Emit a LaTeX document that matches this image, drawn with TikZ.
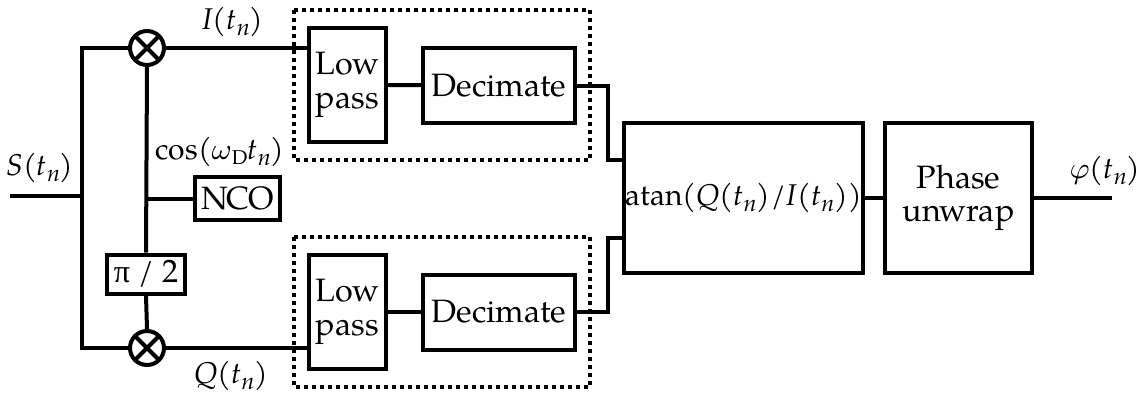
\documentclass[tikz,border=0pt]{standalone}
\usepackage{fontspec}
\setmainfont{TeX Gyre Pagella}
\newfontfamily\grkfont{Liberation Serif}
\usetikzlibrary{calc}
\newcommand{\vi}[1]{\textit{#1}}
\newcommand{\tn}{\vi{t}\kern0.1pt\raisebox{-1.7pt}{\fontsize{7}{8}\selectfont\vi{n}}}
\begin{document}
\begin{tikzpicture}[x=0.3pt,y=-0.3pt,
  line width=1.2pt,
  blk/.style={draw,line width=1.2pt,inner sep=0pt,align=center,font=\fontsize{9.7}{11}\selectfont},
  mix/.style={draw,circle,line width=1.2pt,minimum size=10.2pt,inner sep=0pt,
    path picture={\draw[line width=1.2pt] (path picture bounding box.north west)--(path picture bounding box.south east)
      (path picture bounding box.north east)--(path picture bounding box.south west);}},
  dotbox/.style={draw,line width=1.2pt,dash pattern=on 1.2pt off 1.2pt},
  lbl/.style={inner sep=0pt,font=\fontsize{9}{10}\selectfont}]
\useasboundingbox (0,0) rectangle (1141,394);
% mixers
\node[mix] (mixI) at (147,48) {};
\node[mix] (mixQ) at (147,348) {};
% boxes
\node[blk,minimum width=23.1pt,minimum height=34.2pt] (lpI) at (347.5,85) {Low\\[-1pt]pass};
\node[blk,minimum width=45.6pt,minimum height=22.5pt] (decI) at (499,85.5) {Decimate};
\node[blk,minimum width=23.1pt,minimum height=34.2pt] (lpQ) at (347.5,312) {Low\\[-1pt]pass};
\node[blk,minimum width=45.6pt,minimum height=22.5pt] (decQ) at (499,312) {Decimate};
\node[blk,minimum width=25.5pt,minimum height=12.9pt] (nco) at (237.5,198.5) {NCO};
\node[blk,minimum width=23.4pt,minimum height=11.7pt] (pi) at (146,274) {{\grkfont π} / 2};
\node[blk,font=\fontsize{9}{10}\selectfont,minimum width=71.7pt,minimum height=45pt] (atan) at (743.5,198) {atan(\vi{Q}(\tn)\kern0.3pt/\kern0.3pt\vi{I}(\tn))};
\node[blk,minimum width=44.1pt,minimum height=45pt] (phase) at (958.5,198) {Phase\\[-1pt]unwrap};
% dotted boxes
\draw[dotbox] (294,10) rectangle (590,160);
\draw[dotbox] (294,237) rectangle (590,387);
% coordinates
\coordinate (in) at (10,196);
\coordinate (sp) at (82,196);
\coordinate (kI) at (608,160);
\coordinate (kQ) at (608,238);
\coordinate (out) at (1112,198);
% connectors
\draw (in) -- (sp);
\draw (mixI.west) -| (sp) |- (mixQ.west);
\draw (mixI.east) -- (mixI.east -| lpI.west);
\draw (mixQ.east) -- (mixQ.east -| lpQ.west);
\draw (mixI.south) -- (pi.north);
\draw (pi.south) -- (mixQ.north);
\draw (nco.west) -- (nco.west -| mixI.south);
\draw (lpI) -- (decI);
\draw (lpQ) -- (decQ);
\draw (decI.east) -| (kI) -- (kI -| atan.west);
\draw (decQ.east) -| (kQ) -- (kQ -| atan.west);
\draw (atan) -- (phase);
\draw (phase) -- (out);
% labels
\node[lbl] (lI) at (233,22) {\vi{I}(\tn)};
\node[lbl] (lQ) at (231,376) {\vi{Q}(\tn)};
\node[lbl] (lS) at (40,168) {\vi{S}(\tn)};
\node[lbl] (lcos) at (220,152) {cos($\omega$\raisebox{-1.4pt}{\fontsize{6}{7}\selectfont D}\tn)};
\node[lbl] (lphi) at (1105,171) {$\varphi$(\tn)};
\end{tikzpicture}
\end{document}
